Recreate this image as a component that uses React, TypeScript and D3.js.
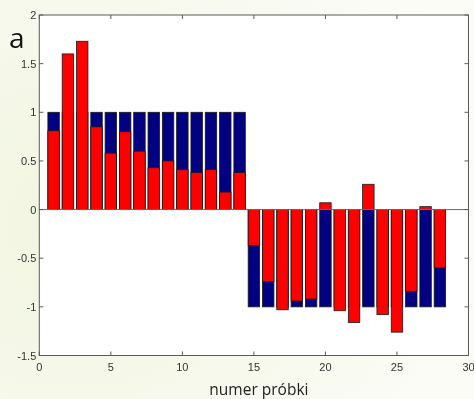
import React from "react";
import * as d3 from "d3";

// sample numbers 1..28
const samples = d3.range(1, 29);
// blue series: class label (+1 / -1)
const classValues = [
  1, 1, 1, 1, 1, 1, 1, 1, 1, 1, 1, 1, 1, 1,
  -1, -1, -1, -1, -1, -1, -1, -1, -1, -1, -1, -1, -1, -1,
];
// red series: model output
const outputValues = [
  0.81, 1.6, 1.73, 0.85, 0.58, 0.8, 0.6, 0.43, 0.5, 0.41, 0.38, 0.41, 0.18, 0.38,
  -0.37, -0.74, -1.03, -0.94, -0.92, 0.07, -1.04, -1.16, 0.26, -1.08, -1.26, -0.84, 0.03, -0.6,
];
const xTicks = [0, 5, 10, 15, 20, 25, 30];
const yTicks = [-1.5, -1, -0.5, 0, 0.5, 1, 1.5, 2];

const W = 474;
const H = 399;
const left = 39.3;
const right = 468.5;
const top = 15;
const bottom = 355.5;

export default function App() {
  const x = d3.scaleLinear().domain([0, 30]).range([left, right]);
  const y = d3.scaleLinear().domain([-1.5, 2]).range([bottom, top]);
  const bw = x(0.8) - x(0);
  const tick = 4;
  const axisColor = "#5a5a5a";
  const labelFont = "'Liberation Sans', Arial, sans-serif";

  const bar = (v: number, i: number, fill: string, key: string) => (
    <rect
      key={key}
      x={x(samples[i]) - bw / 2}
      y={Math.min(y(v), y(0))}
      width={bw}
      height={Math.abs(y(v) - y(0))}
      fill={fill}
      stroke="#1a1a1a"
      strokeWidth={0.8}
    />
  );

  return (
    <div style={{ position: "fixed", left: 0, top: 0 }}>
      <svg width={W} height={H} style={{ display: "block" }}>
        <defs>
          <radialGradient id="bg" cx="0.15" cy="0.55" r="0.9">
            <stop offset="0" stopColor="#f1f5df" />
            <stop offset="1" stopColor="#fbfcf6" />
          </radialGradient>
        </defs>
        <rect width={W} height={H} fill="url(#bg)" />
        <rect x={left} y={top} width={right - left} height={bottom - top} fill="#fff" />

        {classValues.map((v, i) => bar(v, i, "#000080", "b" + i))}
        {outputValues.map((v, i) => bar(v, i, "#ff0000", "r" + i))}

        <line x1={left} x2={right} y1={y(0)} y2={y(0)} stroke="#6a6a6a" strokeWidth={1} />

        <rect
          x={left}
          y={top}
          width={right - left}
          height={bottom - top}
          fill="none"
          stroke={axisColor}
          strokeWidth={1}
        />

        {xTicks.map((t) => (
          <g key={"x" + t}>
            <line x1={x(t)} x2={x(t)} y1={bottom} y2={bottom - tick} stroke={axisColor} />
            <line x1={x(t)} x2={x(t)} y1={top} y2={top + tick} stroke={axisColor} />
            <text
              x={x(t)}
              y={bottom + 15}
              textAnchor="middle"
              fontSize={11}
              fontFamily={labelFont}
              fill="#333"
            >
              {t}
            </text>
          </g>
        ))}

        {yTicks.map((t) => (
          <g key={"y" + t}>
            <line x1={left} x2={left + tick} y1={y(t)} y2={y(t)} stroke={axisColor} />
            <line x1={right} x2={right - tick} y1={y(t)} y2={y(t)} stroke={axisColor} />
            <text
              x={left - 3}
              y={y(t) + 4}
              textAnchor="end"
              fontSize={11}
              fontFamily={labelFont}
              fill="#333"
            >
              {t}
            </text>
          </g>
        ))}

        <text
          x={(left + right) / 2 + 5}
          y={395}
          textAnchor="middle"
          fontSize={15.5}
          fontFamily="'Open Sans', sans-serif"
          fill="#222"
        >
          numer próbki
        </text>
        <text x={9} y={48} fontSize={28} fontFamily="'Open Sans', sans-serif" fill="#111">
          a
        </text>
      </svg>
    </div>
  );
}
